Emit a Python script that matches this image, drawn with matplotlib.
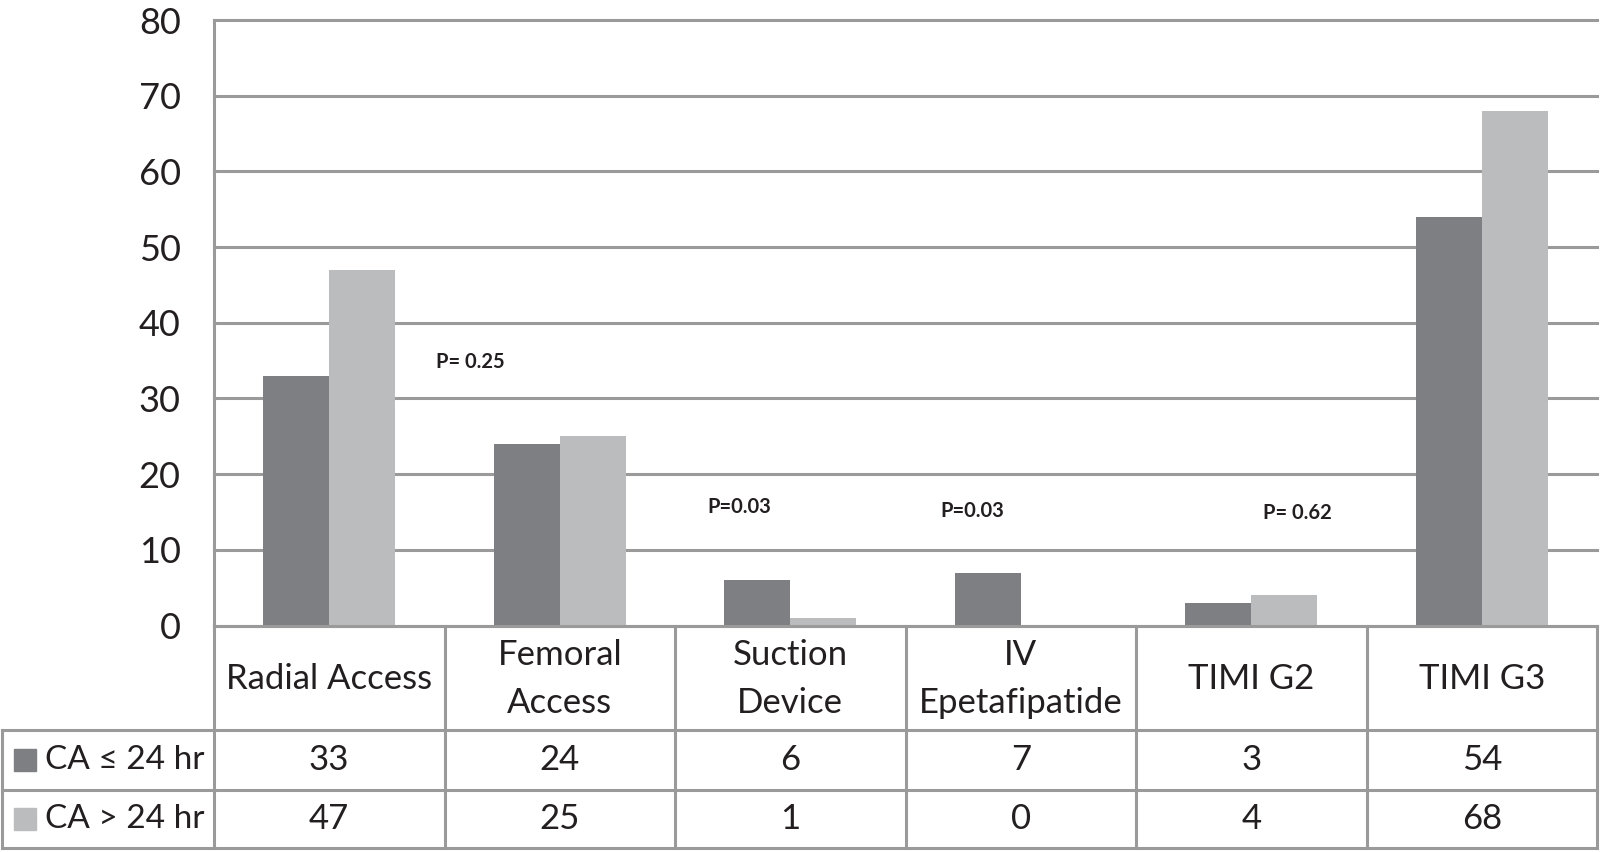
import numpy as np
import matplotlib.pyplot as plt
from matplotlib.patches import Rectangle

# data
categories = ['Radial Access', 'Femoral\nAccess', 'Suction\nDevice', 'IV\nEpetafipatide', 'TIMI G2', 'TIMI G3']
series_names = ['CA \u2264 24 hr', 'CA > 24 hr']
ca_le24 = [33, 24, 6, 7, 3, 54]
ca_gt24 = [47, 25, 1, 0, 4, 68]
p_labels = ['P= 0.25', 'P=0.03', 'P=0.03', 'P= 0.62']
p_x = [0.61, 1.78, 2.79, 4.20]
p_y = [34.8, 15.7, 15.1, 14.9]

dark = '#7e7f83'
light = '#bbbcbe'
linec = '#9a9a9a'
txt = '#231f20'

plt.rcParams['font.family'] = ['Lato', 'DejaVu Sans']

W, H = 1600, 852
fig = plt.figure(figsize=(W / 100, H / 100), dpi=100)

# plot area (pixels)
x0, x1 = 214, 1597
ytop, ybase = 20, 625.5
row1, row2, row3 = 730, 790, 848
xleft = 2

ax = fig.add_axes([x0 / W, 1 - ybase / H, (x1 - x0) / W, (ybase - ytop) / H])
n = len(categories)
x = np.arange(n)
bw = 0.287
ax.bar(x - bw / 2, ca_le24, bw, color=dark, zorder=3)
ax.bar(x + bw / 2, ca_gt24, bw, color=light, zorder=3)
ax.set_xlim(-0.5, n - 0.5)
ax.set_ylim(0, 80)
ax.set_yticks(range(0, 81, 10))
ax.yaxis.grid(True, color=linec, lw=2.2)
for gl in ax.get_ygridlines():
    gl.set_clip_on(False)
ax.set_xticks([])
for s in ['top', 'right', 'bottom']:
    ax.spines[s].set_visible(False)
ax.spines['left'].set_color(linec)
ax.spines['left'].set_linewidth(2.2)
ax.tick_params(axis='y', length=0, pad=24, labelsize=26, labelcolor=txt)

for lab, px, py in zip(p_labels, p_x, p_y):
    ax.text(px, py, lab, ha='center', va='center', fontsize=14.5, fontweight='bold', color=txt)

# data table underneath
tab = fig.add_axes([0, 0, 1, 1], facecolor='none')
tab.set_xlim(0, W)
tab.set_ylim(H, 0)
tab.axis('off')
cw = (x1 - x0) / n
lw = 2.2
tab.plot([x0, x1], [ybase, ybase], color=linec, lw=lw)
for yy in [row1, row2, row3]:
    tab.plot([xleft, x1], [yy, yy], color=linec, lw=lw)
for i in range(n + 1):
    xx = x0 + i * cw
    tab.plot([xx, xx], [ybase, row3], color=linec, lw=lw)
tab.plot([xleft, xleft], [row1, row3], color=linec, lw=lw)

for i, cat in enumerate(categories):
    cx = x0 + (i + 0.5) * cw
    tab.text(cx, (ybase + row1) / 2 + 1, cat, ha='center', va='center', fontsize=25,
             linespacing=1.62, color=txt)
    tab.text(cx, (row1 + row2) / 2, str(ca_le24[i]), ha='center', va='center', fontsize=25, color=txt)
    tab.text(cx, (row2 + row3) / 2, str(ca_gt24[i]), ha='center', va='center', fontsize=25, color=txt)

for (ya, yb), name, col in zip([(row1, row2), (row2, row3)], series_names, [dark, light]):
    yc = (ya + yb) / 2
    tab.add_patch(Rectangle((14, yc - 11), 22, 22, color=col))
    tab.text(45, yc, name, ha='left', va='center', fontsize=24, color=txt)

fig.savefig('out.png', dpi=100)
